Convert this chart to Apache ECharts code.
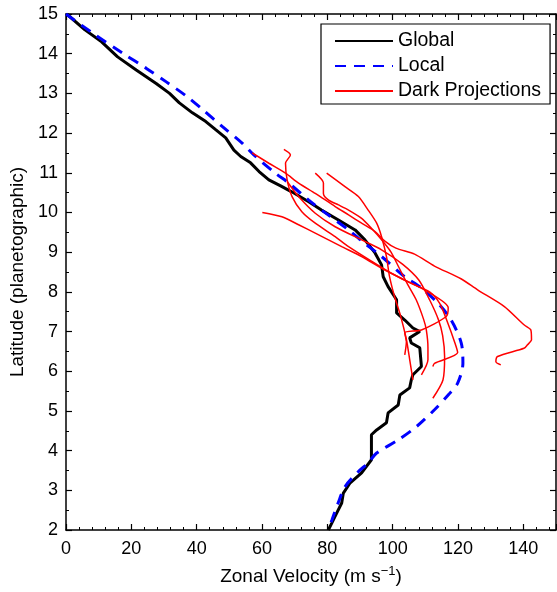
<!DOCTYPE html>
<html><head><meta charset="utf-8">
<script src="https://cdn.jsdelivr.net/npm/echarts@6/dist/echarts.min.js"></script>
<style>html,body{margin:0;padding:0;background:#fff}#c{width:557px;height:592px}</style>
</head><body><div id="c"></div><script>
// axis ticks
const xTickLabels = [0, 20, 40, 60, 80, 100, 120, 140];
const yTickLabels = [2, 3, 4, 5, 6, 7, 8, 9, 10, 11, 12, 13, 14, 15];
const xMax = 150;

// [velocity (m/s), latitude (deg)]
const globalProfile = [[0.2,15],[5.8,14.6],[10.9,14.3],[15.8,13.92],[21.5,13.59],[27.6,13.25],[31.7,13.0],[34.7,12.76],[38.7,12.51],[42.8,12.29],[45.9,12.08],[48.9,11.88],[51.4,11.57],[53.5,11.41],[56.5,11.25],[59.1,11.03],[62.1,10.82],[65.7,10.67],[69.1,10.52],[74.3,10.27],[78.2,10.06],[83.4,9.81],[88.5,9.56],[91.5,9.31],[94.6,8.98],[96.6,8.68],[97.1,8.38],[98.6,8.13],[101.2,7.8],[101.2,7.47],[103.7,7.29],[106.2,7.09],[108.3,7.0],[105.2,6.84],[105.7,6.71],[108.3,6.59],[108.8,6.12],[106.2,5.91],[105.7,5.78],[105.2,5.58],[102.2,5.4],[101.7,5.15],[98.6,4.95],[98.1,4.7],[95.1,4.52],[93.5,4.4],[93.5,3.77],[90.5,3.44],[87.0,3.19],[84.9,2.93],[84.4,2.68],[82.9,2.43],[81.4,2.18],[80.3,2.0]];

const localProfile = [[0,15],[8.3,14.51],[17.4,14.01],[24.6,13.63],[30.7,13.29],[36.7,12.94],[42,12.58],[47.9,12.16],[54,11.74],[57.5,11.45],[64.1,10.99],[68.2,10.74],[74.3,10.31],[79.4,9.99],[86.5,9.56],[91.5,9.22],[96.6,8.89],[103.7,8.38],[108.3,8.13],[113.9,7.71],[117.9,7.29],[121.0,6.71],[121.5,6.2],[119.9,5.7],[117.2,5.42],[112.8,5.03],[107.5,4.62],[101.7,4.27],[95.1,3.94],[92.5,3.69],[89.5,3.47],[85.4,3.09],[83.3,2.68],[81.4,2.25],[80.3,2.0]];

const dark1 = [[57,11.5],[62.1,11.24],[67.2,10.99],[71.2,10.74],[76.3,10.48],[82.4,10.15],[86.5,9.94],[90.5,9.73],[94.6,9.52],[97.6,9.28],[101,9.1],[106.7,8.95],[112.8,8.65],[120.9,8.33],[126,8.05],[134.2,7.63],[140.2,7.17],[142.3,7.04],[142.5,6.79],[141.2,6.66],[140.2,6.58],[132.1,6.37],[131.6,6.24],[133.1,6.16]];
const dark2 = [[60.1,10.0],[66.1,9.89],[71.2,9.69],[76.3,9.48],[84.4,9.14],[90.5,8.89],[97.6,8.55],[103.7,8.3],[110.8,8.0],[117,7.6],[116.4,7.38],[108.8,7.04],[103.7,6.97],[104.2,6.74],[103.7,6.41]];
const dark3 = [[66.7,11.59],[68.7,11.45],[67.2,11.24],[67.7,10.82],[69.2,10.4],[72.2,10.02],[76.3,9.73],[82.4,9.39],[86.5,9.14],[93,8.8],[100,8.45],[106,8.2],[111.3,8.0],[114.4,7.71],[116.9,7.21],[118.9,6.75],[119.9,6.47],[112.8,6.2],[112.3,6.12]];
const dark4 = [[79.8,10.99],[85.4,10.65],[89.5,10.4],[92.5,10.06],[95.1,9.73],[96.6,9.39],[98.1,8.89],[99,8.4],[100.5,7.9],[102.4,7.4],[104.2,6.8],[105.2,6.3],[106.2,5.78]];
const dark5 = [[76.3,10.99],[78.8,10.74],[78.8,10.48],[80.4,10.31],[83.4,10.19],[86.5,10.06],[90.5,9.85],[93.5,9.6],[96.6,9.31],[99.5,9.0],[102,8.6],[104.5,8.2],[107.2,7.8],[109.5,7.3],[110.3,7.04],[110.8,6.6],[110.8,6.29],[108.8,5.91]];
const dark6 = [[67.7,10.78],[71.2,10.4],[76.3,9.98],[82.4,9.64],[90.5,9.31],[96.6,9.06],[103,8.7],[108,8.3],[111.3,7.8],[114,7.3],[115.3,6.9],[115.9,6.37],[115.4,5.78],[112.3,5.32]];
const darkProjections = [dark1, dark2, dark3, dark4, dark5, dark6];

const FONT = 'Liberation Sans';
const TICK_FS = 18;
const NAME_FS = 19;
const chart = echarts.init(document.getElementById('c'));

const axisLineCfg = { show: true, onZero: false, lineStyle: { color: '#000', width: 1.5 } };
const axisTickCfg = { show: true, inside: true, length: 6, lineStyle: { color: '#000', width: 1.2 } };

const xBase = { type: 'value', min: xTickLabels[0], max: xMax, interval: xTickLabels[1] - xTickLabels[0],
  axisLine: axisLineCfg, axisTick: axisTickCfg, splitLine: { show: false },
  minorTick: { show: true, splitNumber: 5, length: 3, lineStyle: { color: '#000', width: 1 } } };
const yBase = { type: 'value', min: yTickLabels[0], max: yTickLabels[yTickLabels.length - 1], interval: yTickLabels[1] - yTickLabels[0],
  axisLine: axisLineCfg, axisTick: axisTickCfg, splitLine: { show: false },
  minorTick: { show: true, splitNumber: 2, length: 3, lineStyle: { color: '#000', width: 1 } } };

const series = [
  { name: 'Global', type: 'line', data: globalProfile, symbol: 'none', z: 3,
    lineStyle: { color: '#000', width: 3 }, itemStyle: { color: '#000' } },
  { name: 'Local', type: 'line', data: localProfile, symbol: 'none', z: 4, smooth: 0.3,
    lineStyle: { color: '#0000ff', width: 3, type: [11, 8] }, itemStyle: { color: '#0000ff' } },
];
darkProjections.forEach(d => series.push({
  name: 'Dark Projections', type: 'line', data: d, symbol: 'none', z: 5, smooth: 0.25,
  lineStyle: { color: '#ff0000', width: 1.5 }, itemStyle: { color: '#ff0000' }
}));

chart.setOption({
  animation: false,
  backgroundColor: '#fff',
  grid: { left: 66, right: 1, top: 14, bottom: 62, containLabel: false, outerBoundsMode: 'none' },
  legend: {
    data: ['Global', 'Local', 'Dark Projections'],
    orient: 'vertical', left: 321, top: 24,
    itemWidth: 58, itemHeight: 14, itemGap: 5,
    itemStyle: { color: 'rgba(0,0,0,0)', borderWidth: 0, opacity: 0 },
    backgroundColor: '#fff', borderColor: '#000', borderWidth: 1.2, borderRadius: 0,
    padding: [7, 9, 3, 13],
    textStyle: { fontSize: 19.5, color: '#000', fontFamily: FONT }
  },
  xAxis: [
    Object.assign({}, xBase, {
      position: 'bottom',
      axisLabel: { color: '#000', fontSize: TICK_FS, fontFamily: FONT, margin: 10, showMaxLabel: false,
        formatter: v => xTickLabels.indexOf(v) >= 0 ? String(v) : '' },
      name: 'Zonal Velocity (m s{sup|−1})', nameLocation: 'middle', nameGap: 35,
      nameTextStyle: { fontSize: NAME_FS, color: '#000', fontFamily: FONT, lineHeight: 24,
        rich: { sup: { fontSize: 13, fontFamily: FONT, color: '#000', verticalAlign: 'top', lineHeight: 13 } } }
    }),
    Object.assign({}, xBase, { position: 'top', axisLabel: { show: false } })
  ],
  yAxis: [
    Object.assign({}, yBase, {
      position: 'left',
      axisLabel: { color: '#000', fontSize: TICK_FS, fontFamily: FONT, margin: 8 },
      name: 'Latitude (planetographic)', nameLocation: 'middle', nameGap: 34,
      nameTextStyle: { fontSize: NAME_FS, color: '#000', fontFamily: FONT }
    }),
    Object.assign({}, yBase, { position: 'right', axisLabel: { show: false } })
  ],
  series: series
});
</script></body></html>
